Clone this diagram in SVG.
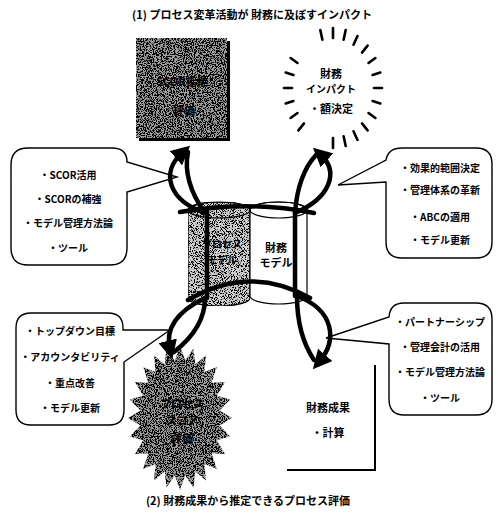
<svg xmlns="http://www.w3.org/2000/svg" width="498" height="514" viewBox="0 0 498 514">
<style>
text{font-family:"Noto Sans CJK JP","Noto Sans",sans-serif;font-weight:bold;fill:#000;text-anchor:middle}
.t{font-size:11px}
.c{font-size:10px}
.b{font-size:11px}
.bx{fill:#fff;stroke:#000;stroke-width:1.4}
.con{fill:none;stroke:#000;stroke-width:4.5;stroke-linecap:round}
.ray{stroke:#000;stroke-width:2.6;stroke-linecap:round}
.gr{fill:#a0a0a0;filter:url(#grain)}
.gl{fill:#d0d0d0;filter:url(#grain2)}
</style>
<defs>
<filter id="grain" x="0" y="0" width="1" height="1">
<feTurbulence type="fractalNoise" baseFrequency="0.9" numOctaves="2" seed="4" result="t"/>
<feColorMatrix in="t" type="matrix" values="0 0 0 0 0  0 0 0 0 0  0 0 0 0 0  12 0 0 0 -5.4" result="d"/>
<feComposite in="d" in2="SourceGraphic" operator="in" result="dc"/>
<feMerge><feMergeNode in="SourceGraphic"/><feMergeNode in="dc"/></feMerge>
</filter>
<filter id="grain2" x="0" y="0" width="1" height="1">
<feTurbulence type="fractalNoise" baseFrequency="1.1" numOctaves="2" seed="7" result="t"/>
<feColorMatrix in="t" type="matrix" values="0 0 0 0 0  0 0 0 0 0  0 0 0 0 0  12 0 0 0 -6" result="d"/>
<feComposite in="d" in2="SourceGraphic" operator="in" result="dc"/>
<feMerge><feMergeNode in="SourceGraphic"/><feMergeNode in="dc"/></feMerge>
</filter>
<marker id="ah" viewBox="0 0 10 10" refX="5" refY="5" markerWidth="4.2" markerHeight="4.2" orient="auto" markerUnits="strokeWidth"><path d="M0 0L10 5L0 10z" fill="#000"/></marker>
</defs>
<rect width="498" height="514" fill="#fff"/>

<text id="title1" class="t" x="252" y="19">(1) プロセス変革活動が 財務に及ぼすインパクト</text>
<text id="title2" class="t" x="248" y="505">(2) 財務成果から推定できるプロセス評価</text>

<g id="process-box">
<rect x="139" y="41" width="91" height="100" fill="#000"/>
<rect class="gr" x="136" y="38" width="91" height="100"/>
<text class="b" x="182" y="86">SCOR指標</text>
<text class="b" x="184" y="115">評価</text>
</g>

<g id="finance-impact">
<g class="ray">
<line x1="322.4" y1="39.7" x2="320.3" y2="30"/>
<line x1="333" y1="38" x2="333" y2="28"/>
<line x1="343.6" y1="39.7" x2="345.7" y2="30"/>
<line x1="353.5" y1="44.7" x2="357.5" y2="36"/>
<line x1="362" y1="52.6" x2="367.6" y2="45.6"/>
<line x1="368.5" y1="63" x2="375.4" y2="58"/>
<line x1="372.6" y1="75" x2="380.3" y2="72.5"/>
<line x1="374" y1="88" x2="382" y2="88"/>
<line x1="372.6" y1="101" x2="380.3" y2="103.5"/>
<line x1="368.5" y1="113" x2="375.4" y2="118"/>
<line x1="362" y1="123.4" x2="367.6" y2="130.4"/>
<line x1="353.5" y1="131.3" x2="357.5" y2="140"/>
<line x1="343.6" y1="136.3" x2="345.7" y2="146"/>
<line x1="333" y1="138" x2="333" y2="148"/>
<line x1="304" y1="123.4" x2="298.4" y2="130.4"/>
<line x1="297.5" y1="113" x2="290.6" y2="118"/>
<line x1="293.4" y1="101" x2="285.7" y2="103.5"/>
<line x1="292" y1="88" x2="284" y2="88"/>
<line x1="293.4" y1="75" x2="285.7" y2="72.5"/>
<line x1="297.5" y1="63" x2="290.6" y2="58"/>
</g>
<text class="b" x="331" y="78">財務</text>
<text class="c" x="331" y="93">インパクト</text>
<text class="b" x="331" y="113">・額決定</text>
</g>

<g id="callout-tl">
<path class="bx" d="M28 148H112Q127 148 127 162L177 177L127 192V248Q127 265 110 265H28Q11 265 11 248V165Q11 148 28 148Z"/>
<text class="c" x="68" y="179">・SCOR活用</text>
<text class="c" x="68" y="203">・SCORの補強</text>
<text class="c" x="68" y="227">・モデル管理方法論</text>
<text class="c" x="68" y="252">・ツール</text>
</g>

<g id="callout-tr">
<path class="bx" d="M402 148H476Q492 148 492 164V242Q492 258 476 258H402Q386 258 386 242V182L338 185L386 160Q388 148 402 148Z"/>
<text class="c" x="440" y="172">・効果的範囲決定</text>
<text class="c" x="440" y="194">・管理体系の革新</text>
<text class="c" x="440" y="221">・ABCの適用</text>
<text class="c" x="440" y="244">・モデル更新</text>
</g>

<g id="callout-bl">
<path class="bx" d="M31 313H108Q123 313 123 328V330L170 330L124 362V410Q124 425 109 425H31Q16 425 16 410V328Q16 313 31 313Z"/>
<text class="c" x="70" y="335">・トップダウン目標</text>
<text class="c" x="70" y="361">・アカウンタビリティ</text>
<text class="c" x="70" y="387">・重点改善</text>
<text class="c" x="70" y="412">・モデル更新</text>
</g>

<g id="callout-br">
<path class="bx" d="M404 303H476Q492 303 492 319V399Q492 415 476 415H404Q389 415 389 399V344L326 338L389 317Q390 303 404 303Z"/>
<text class="c" x="440" y="326">・パートナーシップ</text>
<text class="c" x="440" y="351">・管理会計の活用</text>
<text class="c" x="440" y="376">・モデル管理方法論</text>
<text class="c" x="440" y="402">・ツール</text>
</g>

<g id="process-model">
<path class="gl" d="M188 210V298A31 8 0 0 0 250 298V210A31 8 0 0 0 188 210Z" stroke="#000" stroke-width="1.2"/>
<ellipse cx="219" cy="210" rx="31" ry="8" fill="none" stroke="#000" stroke-width="1.2"/>
<text class="c" x="222" y="248">プロセス</text>
<text class="c" x="222" y="264">モデル</text>
</g>

<g id="finance-model">
<path d="M250 210V296A28.5 8 0 0 0 307 296V210A28.5 8 0 0 0 250 210Z" fill="#fff" stroke="#000" stroke-width="1.2"/>
<ellipse cx="278.5" cy="210" rx="28.5" ry="8" fill="none" stroke="#000" stroke-width="1.2"/>
<text class="b" x="276" y="252">財務</text>
<text class="b" x="276" y="267">モデル</text>
</g>

<g id="process-eval">
<polygon class="gr" points="232,418 219.7,425.6 230.2,436.6 217,440.2 225,454 211.7,453.3 216.8,468.9 204.4,464 206,480.4 195.3,471.6 193.5,487.5 185.2,475.5 180,490 174.8,475.5 166.5,487.5 164.7,471.6 154,480.4 155.6,464 143.2,468.9 148.3,453.3 135,454 143,440.2 129.8,436.6 140.3,425.6 128,418 140.3,410.4 129.8,399.4 143,395.8 135,382 148.3,382.7 143.2,367.1 155.6,372 154,355.6 164.7,364.4 166.5,348.5 174.8,360.5 180,346 185.2,360.5 193.5,348.5 195.3,364.4 206,355.6 204.4,372 216.8,367.1 211.7,382.7 225,382 217,395.8 230.2,399.4 219.7,410.4"/>
<text class="b" x="182" y="408">プロセス</text>
<text class="b" x="182" y="425">スコア</text>
<text class="b" x="182" y="443">評価</text>
</g>

<g id="finance-result">
<path d="M375 365V470H287" fill="none" stroke="#000" stroke-width="2"/>
<text class="b" x="328" y="412">財務成果</text>
<text class="b" x="328" y="437">・計算</text>
</g>

<g id="connectors">
<path class="con" d="M180 212Q250 200 314 213"/>
<path class="con" d="M188 300Q250 264 310 298"/>
<path class="con" d="M207 212V298"/>
<path class="con" d="M295 213V296"/>
<path class="con" d="M205 213C168 200 160 172 183 152" marker-end="url(#ah)"/>
<path class="con" d="M205 213C190 192 184 172 188 152"/>
<path class="con" d="M295 213C297 186 304 168 316 155"/>
<path class="con" d="M295 213C330 198 340 172 320 154" marker-end="url(#ah)"/>
<path class="con" d="M205 298C180 310 164 326 170 350" marker-end="url(#ah)"/>
<path class="con" d="M205 298C205 320 192 338 174 352"/>
<path class="con" d="M297 296C297 325 304 345 314 360"/>
<path class="con" d="M297 296C334 310 338 340 319 362" marker-end="url(#ah)"/>
</g>
</svg>
